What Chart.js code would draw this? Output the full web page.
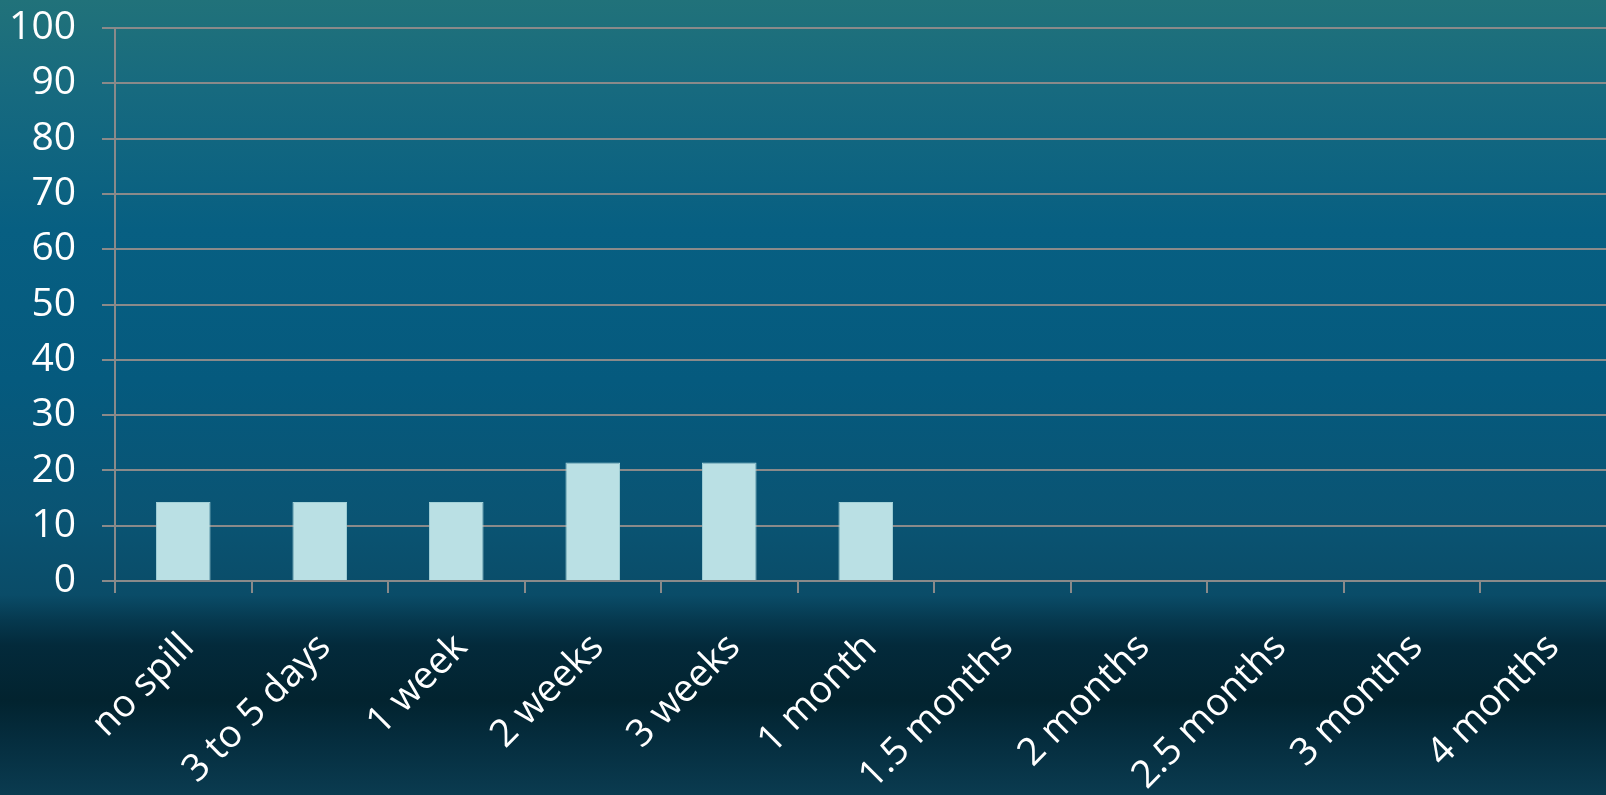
<!DOCTYPE html>
<html>
<head>
<meta charset="utf-8">
<script src="https://cdn.jsdelivr.net/npm/chart.js@4/dist/chart.umd.min.js"></script>
<style>
  html, body { margin: 0; padding: 0; width: 1606px; height: 795px; overflow: hidden; }
  body {
    background: linear-gradient(to bottom,
      #21727a 0px, #176a7f 90px, #075f82 230px, #055a7e 380px,
      #0a5473 520px, #0a4c68 595px, #06394f 620px, #032a3b 645px,
      #02232f 700px, #052d3e 740px, #0a3b50 795px);
  }
  #wrap { position: absolute; left: 0; top: 0; width: 1640px; height: 795px; }
</style>
</head>
<body>
<div id="wrap"><canvas id="c"></canvas></div>
<script>
const categories = ["no spill", "3 to 5 days", "1 week", "2 weeks", "3 weeks", "1 month",
  "1.5 months", "2 months", "2.5 months", "3 months", "4 months"];
const percentages = [14.29, 14.29, 14.29, 21.43, 21.43, 14.29, 0, 0, 0, 0, 0];
const yMin = 0;
const yMax = 100;
const yStep = 10;

const FONT = "'Open Sans', 'Noto Sans', sans-serif";
const gridColor = "#8a8a8a";

new Chart(document.getElementById("c"), {
  type: "bar",
  data: {
    labels: categories,
    datasets: [{
      data: percentages,
      backgroundColor: "#bae0e4",
      borderColor: "#a3d1d8",
      borderWidth: 1,
      barPercentage: 0.4,
      categoryPercentage: 1.0
    }]
  },
  options: {
    responsive: true,
    maintainAspectRatio: false,
    animation: false,
    layout: { padding: { top: 28, left: 0, right: 23.5, bottom: 0 } },
    plugins: { legend: { display: false }, tooltip: { enabled: false } },
    scales: {
      x: {
        grid: {
          drawOnChartArea: false,
          drawTicks: true,
          tickLength: 12,
          color: gridColor,
          lineWidth: 2,
          offset: true
        },
        border: { display: true, color: gridColor, width: 2 },
        ticks: {
          autoSkip: false,
          minRotation: 45,
          maxRotation: 45,
          color: "#ffffff",
          padding: 32,
          labelOffset: 5,
          font: { family: FONT, size: 38 }
        },
        afterFit: (s) => { s.height = 214; s.paddingLeft = 0; s.paddingRight = 0; }
      },
      y: {
        min: yMin,
        max: yMax,
        grid: {
          color: gridColor,
          lineWidth: 2,
          drawTicks: true,
          tickLength: 13
        },
        border: { display: true, color: gridColor, width: 2 },
        ticks: {
          stepSize: yStep,
          color: "#ffffff",
          padding: 26,
          font: { family: FONT, size: 39 }
        },
        afterFit: (s) => { s.width = 115; s.paddingTop = 0; s.paddingBottom = 0; }
      }
    }
  }
});
</script>
</body>
</html>
